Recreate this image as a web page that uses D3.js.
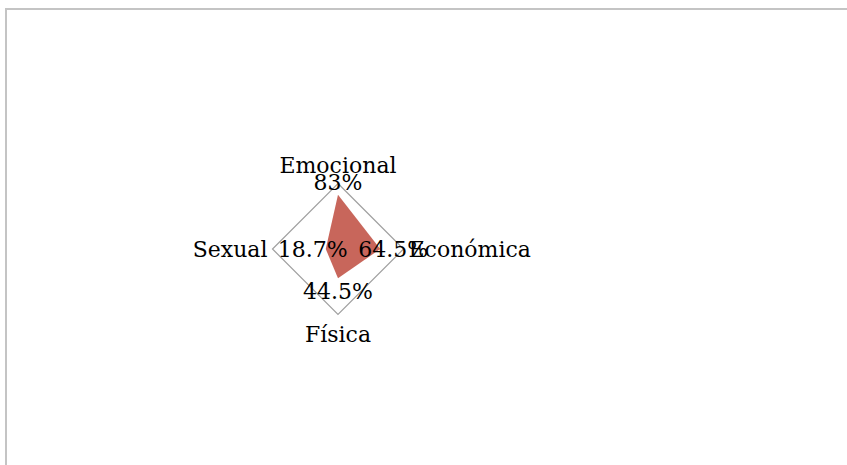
<!DOCTYPE html>
<html>
<head>
<meta charset="utf-8">
<script src="https://cdn.jsdelivr.net/npm/d3@7"></script>
<style>
  html, body { margin: 0; padding: 0; background: #ffffff; }
  svg { display: block; }
</style>
</head>
<body>
<svg id="chart" width="847" height="465"></svg>
<script>
// Data
const categories = ["Emocional", "Económica", "Física", "Sexual"];
const values = [0.83, 0.645, 0.445, 0.187];
const valueLabels = ["83%", "64.5%", "44.5%", "18.7%"];
const gridLevels = [1];

const svg = d3.select("#chart");

// frame
svg.append("rect")
  .attr("x", 6).attr("y", 9)
  .attr("width", 900).attr("height", 500)
  .attr("fill", "#ffffff")
  .attr("stroke", "#c4c4c4")
  .attr("stroke-width", 2);

const cx = 338, cy = 249, R = 65.5;
const r = d3.scaleLinear().domain([0, 1]).range([0, R]);
const angle = d3.scalePoint().domain(categories).range([0, 2 * Math.PI * (categories.length - 1) / categories.length]);

const g = svg.append("g").attr("transform", `translate(${cx},${cy})`);

const radial = d3.lineRadial()
  .angle((d, i) => angle(categories[i]))
  .radius(d => r(d))
  .curve(d3.curveLinearClosed);

// grid
gridLevels.forEach(lv => {
  g.append("path")
    .attr("d", radial(categories.map(() => lv)))
    .attr("fill", "none")
    .attr("stroke", "#a0a0a0")
    .attr("stroke-width", 1.2);
});

// data area
g.append("path")
  .attr("d", radial(values))
  .attr("fill", "#c8665b")
  .attr("stroke", "none");

const font = "DejaVu Serif";
const fs = 22;
const capMid = 8;

// category labels
categories.forEach((c, i) => {
  const a = angle(c);
  const sx = Math.sin(a), sy = -Math.cos(a);
  let x, y, anchor;
  if (Math.abs(sx) < 0.01) {
    x = 0; y = sy * (r(1) + 19) + capMid; anchor = "middle";
  } else {
    x = sx * (r(1) + 5); y = capMid; anchor = sx > 0 ? "start" : "end";
  }
  g.append("text")
    .attr("x", x).attr("y", y)
    .attr("text-anchor", anchor)
    .attr("font-family", font)
    .attr("font-size", fs)
    .attr("fill", "#000000")
    .text(c);
});

// value labels
values.forEach((v, i) => {
  const a = angle(categories[i]);
  const sx = Math.sin(a), sy = -Math.cos(a);
  const off = 13;
  const x = sx * (r(v) + off);
  const y = sy * (r(v) + off) + capMid;
  g.append("text")
    .attr("x", x).attr("y", y)
    .attr("text-anchor", "middle")
    .attr("font-family", font)
    .attr("font-size", fs)
    .attr("fill", "#000000")
    .text(valueLabels[i]);
});
</script>
</body>
</html>
